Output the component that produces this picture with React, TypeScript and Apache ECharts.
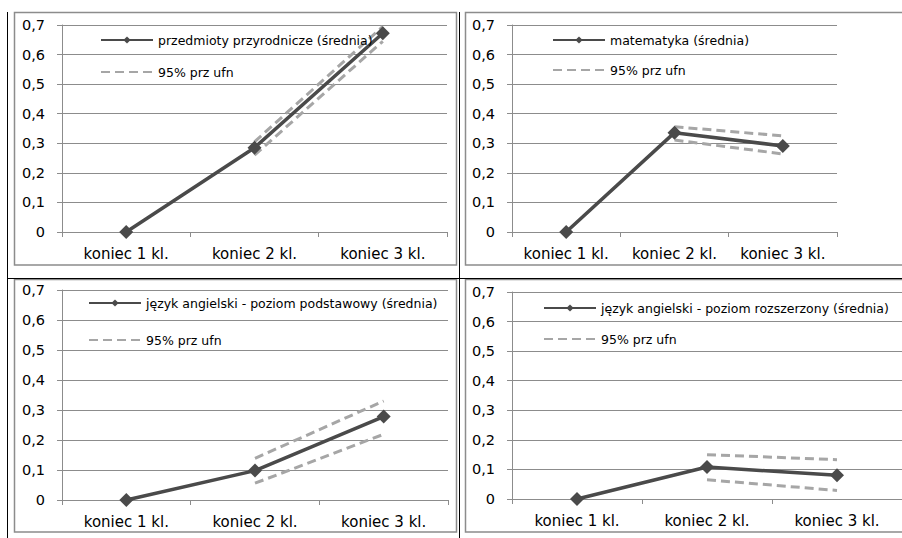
import React, { useEffect, useRef } from 'react';
import * as echarts from 'echarts';

const categories = ['koniec 1 kl.', 'koniec 2 kl.', 'koniec 3 kl.'];
const yTickLabels = ['0', '0,1', '0,2', '0,3', '0,4', '0,5', '0,6', '0,7'];
const ciName = '95% prz ufn';

const meanNames = [
  'przedmioty przyrodnicze (średnia)',
  'matematyka (średnia)',
  'język angielski - poziom podstawowy (średnia)',
  'język angielski - poziom rozszerzony (średnia)',
];

const przyrodaMean = [0, 0.285, 0.672];
const przyrodaUpper = [null, 0.305, 0.695];
const przyrodaLower = [null, 0.26, 0.645];

const matMean = [0, 0.336, 0.291];
const matUpper = [null, 0.356, 0.325];
const matLower = [null, 0.311, 0.264];

const angPodMean = [0, 0.098, 0.278];
const angPodUpper = [null, 0.139, 0.33];
const angPodLower = [null, 0.056, 0.219];

const angRozMean = [0, 0.108, 0.08];
const angRozUpper = [null, 0.15, 0.133];
const angRozLower = [null, 0.065, 0.029];

const panelData = [
  { mean: przyrodaMean, upper: przyrodaUpper, lower: przyrodaLower },
  { mean: matMean, upper: matUpper, lower: matLower },
  { mean: angPodMean, upper: angPodUpper, lower: angPodLower },
  { mean: angRozMean, upper: angRozUpper, lower: angRozLower },
];

// layout (positions only)
const grids = [
  { left: 62, top: 25, width: 385, height: 207 },
  { left: 512, top: 25, width: 325, height: 207 },
  { left: 62, top: 290, width: 386, height: 210 },
  { left: 512, top: 292, width: 390, height: 207 },
];
const legends = [
  { left: 100, top: 32, itemGap: 16 },
  { left: 552, top: 32, itemGap: 14 },
  { left: 88, top: 295, itemGap: 21 },
  { left: 543, top: 300, itemGap: 15 },
];

const MEAN_COLOR = '#4a4a4a';
const CI_COLOR = '#a6a6a6';
const GRID_COLOR = '#8c8c8c';
const FONT = 'DejaVu Sans';

export default function App() {
  const ref = useRef<HTMLDivElement>(null);

  useEffect(() => {
    if (!ref.current) return;
    const chart = echarts.init(ref.current, undefined, { renderer: 'svg' });

    const series: any[] = [];
    panelData.forEach((p, i) => {
      const ciCommon = {
        type: 'line',
        name: ciName,
        xAxisIndex: i,
        yAxisIndex: i,
        symbol: 'none',
        lineStyle: { color: CI_COLOR, width: 3, type: [9, 5], cap: 'butt' },
        itemStyle: { color: CI_COLOR },
        z: 2,
      };
      series.push({ ...ciCommon, data: p.upper });
      series.push({ ...ciCommon, data: p.lower });
      series.push({
        type: 'line',
        name: meanNames[i],
        xAxisIndex: i,
        yAxisIndex: i,
        data: p.mean,
        symbol: 'diamond',
        symbolSize: 14,
        lineStyle: { color: MEAN_COLOR, width: 3.5 },
        itemStyle: { color: MEAN_COLOR },
        z: 3,
      });
    });

    const option: any = {
      animation: false,
      backgroundColor: '#ffffff',
      grid: grids.map((g) => ({ ...g, containLabel: false })),
      xAxis: grids.map((_, i) => ({
        type: 'category',
        gridIndex: i,
        data: categories,
        boundaryGap: true,
        axisLine: { show: true, lineStyle: { color: GRID_COLOR, width: 1 } },
        axisTick: { show: true, length: 5, lineStyle: { color: GRID_COLOR } },
        axisLabel: { color: '#000', fontFamily: FONT, fontSize: 15, margin: 14, interval: 0, hideOverlap: false },
        splitLine: { show: false },
      })),
      yAxis: grids.map((_, i) => ({
        type: 'value',
        gridIndex: i,
        min: 0,
        max: 0.7,
        interval: 0.1,
        axisLine: { show: true, lineStyle: { color: GRID_COLOR, width: 1 } },
        axisTick: { show: true, length: 5, lineStyle: { color: GRID_COLOR } },
        axisLabel: {
          color: '#000',
          fontFamily: FONT,
          fontSize: 14.5,
          margin: 17,
          formatter: (v: number) => yTickLabels[Math.round(v * 10)] ?? '',
        },
        splitLine: { show: true, lineStyle: { color: GRID_COLOR, width: 1 } },
      })),
      legend: legends.map((l, i) => ({
        left: l.left,
        top: l.top,
        orient: 'vertical',
        itemGap: l.itemGap,
        itemWidth: 52,
        itemHeight: 9,
        padding: 0,
        selectedMode: false,
        data: [meanNames[i], { name: ciName, itemStyle: { opacity: 0 } }],
        textStyle: { color: '#000', fontFamily: FONT, fontSize: 12.5, lineHeight: 16 },
      })),
      graphic: [
        { type: 'rect', silent: true, shape: { x: 14.5, y: 12.5, width: 442, height: 252.5 }, style: { fill: 'none', stroke: GRID_COLOR, lineWidth: 1.5 } },
        { type: 'rect', silent: true, shape: { x: 465.5, y: 12.5, width: 450, height: 252.5 }, style: { fill: 'none', stroke: GRID_COLOR, lineWidth: 1.5 } },
        { type: 'rect', silent: true, shape: { x: 14.5, y: 279.5, width: 442, height: 252.5 }, style: { fill: 'none', stroke: GRID_COLOR, lineWidth: 1.5 } },
        { type: 'rect', silent: true, shape: { x: 465.5, y: 279.5, width: 450, height: 252.5 }, style: { fill: 'none', stroke: GRID_COLOR, lineWidth: 1.5 } },
        { type: 'line', silent: true, shape: { x1: 7.5, y1: 12, x2: 7.5, y2: 538 }, style: { stroke: '#000', lineWidth: 1 } },
        { type: 'line', silent: true, shape: { x1: 459.5, y1: 12, x2: 459.5, y2: 538 }, style: { stroke: '#000', lineWidth: 1 } },
        { type: 'line', silent: true, shape: { x1: 7, y1: 278.5, x2: 902, y2: 278.5 }, style: { stroke: '#000', lineWidth: 1 } },
      ],
      series,
    };

    chart.setOption(option);
    return () => chart.dispose();
  }, []);

  return (
    <div
      ref={ref}
      style={{ position: 'absolute', left: 0, top: 0, width: 902, height: 538, background: '#fff' }}
    />
  );
}
